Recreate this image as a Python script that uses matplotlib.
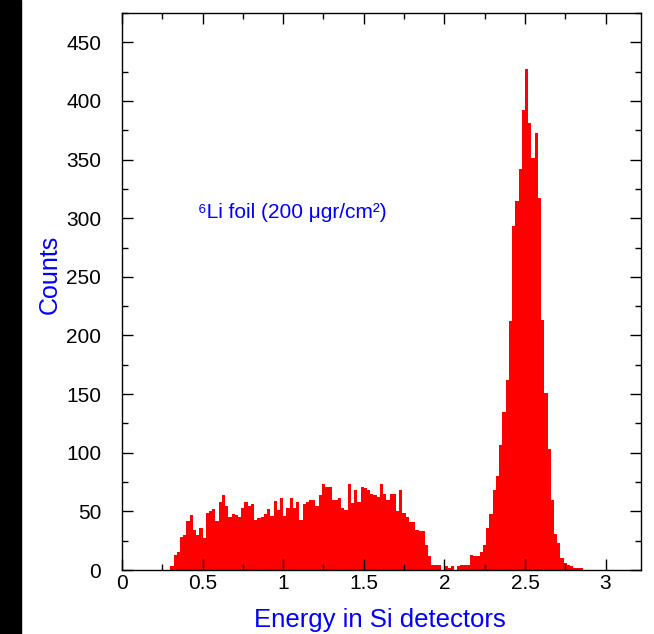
import numpy as np
import matplotlib
matplotlib.use('Agg')
import matplotlib.pyplot as plt
from matplotlib.ticker import MultipleLocator
from matplotlib.patches import Rectangle

# Histogram of energies deposited in the Si detectors (bin width 0.02)
first_edge = 0.30
bin_width = 0.02
counts = [
    3, 13, 15, 28, 30, 42, 47, 34, 30, 36,          # 0.30 - 0.48
    27, 49, 50, 52, 42, 58, 64, 55, 45, 48,         # 0.50 - 0.68
    47, 45, 53, 58, 55, 56, 43, 44, 45, 48,         # 0.70 - 0.88
    52, 46, 59, 51, 61, 46, 53, 61, 53, 58,         # 0.90 - 1.08
    43, 56, 58, 60, 60, 55, 64, 73, 71, 71,         # 1.10 - 1.28
    60, 60, 61, 53, 51, 73, 57, 68, 58, 71,         # 1.30 - 1.48
    70, 68, 65, 64, 62, 73, 65, 60, 65, 65,         # 1.50 - 1.68
    50, 68, 49, 45, 41, 41, 34, 33, 33, 21,         # 1.70 - 1.88
    12, 4, 4, 4, 0, 3, 2, 3, 0, 3,                  # 1.90 - 2.08
    4, 4, 4, 13, 12, 12, 15, 21, 36, 48,            # 2.10 - 2.28
    68, 80, 107, 135, 162, 212, 293, 315, 342, 392, # 2.30 - 2.48
    427, 381, 351, 373, 317, 213, 151, 103, 60, 31, # 2.50 - 2.68
    23, 10, 6, 4, 3, 2, 2, 2,                       # 2.70 - 2.84
]
edges = first_edge + bin_width * np.arange(len(counts) + 1)

x_ticks = [0, 0.5, 1, 1.5, 2, 2.5, 3]
x_tick_labels = ['0', '0.5', '1', '1.5', '2', '2.5', '3']
y_ticks = [0, 50, 100, 150, 200, 250, 300, 350, 400, 450]

plt.rcParams['font.family'] = ['Liberation Sans', 'DejaVu Sans']

fig = plt.figure(figsize=(6.54, 6.34), dpi=100)
# black strip down the left edge
fig.patches.append(Rectangle((0, 0), 21 / 654, 1, transform=fig.transFigure,
                             color='black', zorder=0))
ax = fig.add_axes([122 / 654, 1 - 570 / 634, 519 / 654, 557 / 634])

ax.stairs(counts, edges, fill=True, color='#ff0000', linewidth=0)

ax.set_xlim(0, 3.22)
ax.set_ylim(0, 475)
ax.set_xticks(x_ticks)
ax.set_xticklabels(x_tick_labels)
ax.set_yticks(y_ticks)
ax.xaxis.set_minor_locator(MultipleLocator(0.25))
ax.yaxis.set_minor_locator(MultipleLocator(25))
ax.tick_params(which='both', direction='in', top=True, right=True, width=1, color='black')
ax.tick_params(which='major', length=8)
ax.tick_params(which='minor', length=4)
ax.tick_params(axis='x', which='major', labelsize=15, pad=3)
ax.tick_params(axis='y', which='major', labelsize=15, pad=15)
for s in ax.spines.values():
    s.set_linewidth(1)

ax.set_xlabel('Energy in Si detectors', color='#0000ff', fontsize=18.5)
ax.xaxis.set_label_coords(0.497, -0.068)
ax.set_ylabel('Counts', color='#0000ff', fontsize=18)
ax.yaxis.set_label_coords(-0.116, 0.53)

ax.text(0.47, 305, '⁶Li foil (200 μgr/cm²)', color='#0000ff', fontsize=15,
        va='center', ha='left')

fig.savefig('out.png', dpi=100)
